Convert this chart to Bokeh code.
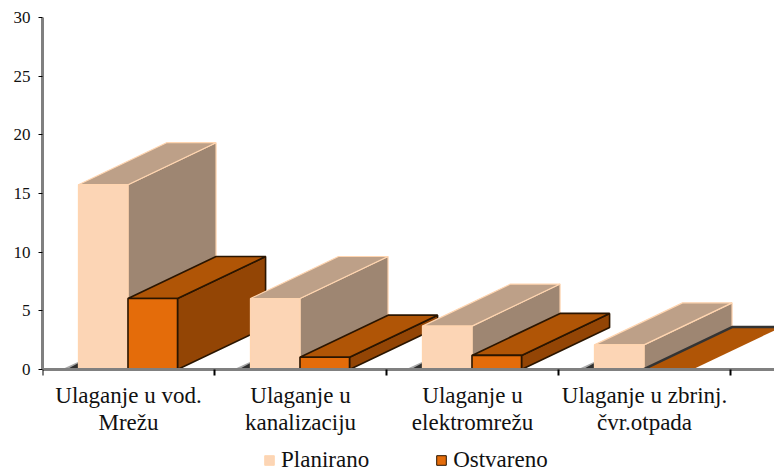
from bokeh.embed import file_html
from bokeh.resources import INLINE
from bokeh.plotting import figure
from bokeh.models import Range1d, FixedTicker, Legend, LegendItem, ColumnDataSource

categories = ["Ulaganje u vod.\nMrežu", "Ulaganje u\nkanalizaciju", "Ulaganje u\nelektromrežu", "Ulaganje u zbrinj.\nčvr.otpada"]
planirano = [15.75, 6.05, 3.7, 2.1]
ostvareno = [6.05, 1.05, 1.2, 0.04]
y_ticks = [0, 5, 10, 15, 20, 25, 30]

FONT = "Liberation Serif"
PLAN = dict(front="#FCD5B5", top="#BDA088", side="#9E8672", edge="#FFD5B0")
OSTV = dict(front="#E46C0A", top="#B05506", side="#934505", edge="#2A1500")

BAR_W = 0.288
GAP = 0.209
DX = 0.512
DY = 3.58

W, H = 774, 474
L, T = 42, 17
PX_PER_UNIT = 352 / 30

p = figure(width=W, height=H, output_backend="svg", toolbar_location=None,
           x_range=Range1d(0, (W - L) / 172.0), y_range=Range1d(-105 / PX_PER_UNIT, 30),
           min_border_left=L, min_border_right=0, min_border_top=T, min_border_bottom=0,
           outline_line_color=None, background_fill_color="white")
p.grid.visible = False


def box(x0, h, st, lw):
    x1 = x0 + BAR_W
    if h > 0.2:
        p.patch([x1, x1 + DX, x1 + DX, x1], [0, DY, h + DY, h], fill_color=st["side"], line_color=st["edge"], line_width=lw)
    p.patch([x0, x1, x1 + DX, x0 + DX], [h, h, h + DY, h + DY], fill_color=st["top"],
            line_color=st["edge"] if h > 0.2 else None, line_width=lw)
    if h > 0.2:
        p.patch([x0, x1, x1, x0], [0, 0, h, h], fill_color=st["front"], line_color=st["edge"], line_width=lw)
    else:
        p.line([x0, x0 + DX, x1 + DX], [h, h + DY, h + DY], line_color="#333333", line_width=2.5)


for i in range(len(categories)):
    p.patch([i + 0.11, i + GAP, i + GAP], [0, 0, 0.65], fill_color="#A8A8A8", line_color=None)
    p.patch([i + 0.14, i + GAP, i + GAP], [0, 0, 0.55], fill_color="#303030", line_color=None)
    box(i + GAP, planirano[i], PLAN, 1.2)
    box(i + GAP + BAR_W, ostvareno[i], OSTV, 1.6)

p.xaxis.fixed_location = 0
p.xaxis.ticker = FixedTicker(ticks=[i + 0.5 for i in range(len(categories))], minor_ticks=list(range(len(categories) + 1)))
p.xaxis.major_label_overrides = {i + 0.5: c for i, c in enumerate(categories)}
p.xaxis.major_tick_line_color = None
p.xaxis.minor_tick_line_color = "#000000"
p.xaxis.minor_tick_line_width = 2
p.xaxis.minor_tick_out = 6
p.xaxis.minor_tick_in = 0
p.xaxis.axis_line_color = "#808080"
p.xaxis.axis_line_width = 3
p.xaxis.major_label_text_font = FONT
p.xaxis.major_label_text_font_size = "23px"
p.xaxis.major_label_text_color = "#111111"
p.xaxis.major_label_text_line_height = 1.1
p.xaxis.major_label_standoff = 7

p.yaxis.bounds = (0, 30)
p.yaxis.ticker = FixedTicker(ticks=y_ticks)
p.yaxis.major_tick_line_color = "#000000"
p.yaxis.minor_tick_line_color = None
p.yaxis.major_tick_out = 4
p.yaxis.major_tick_in = 0
p.yaxis.axis_line_color = "#808080"
p.yaxis.axis_line_width = 3
p.yaxis.major_label_text_font = FONT
p.yaxis.major_label_text_font_size = "17px"
p.yaxis.major_label_text_color = "#111111"
p.yaxis.major_label_standoff = 8

src = ColumnDataSource(dict(l=[-10], r=[-9], b=[-50], t=[-49]))
r1 = p.quad(left="l", right="r", bottom="b", top="t", source=src, fill_color=PLAN["front"], line_color=PLAN["edge"])
r2 = p.quad(left="l", right="r", bottom="b", top="t", source=src, fill_color=OSTV["front"], line_color=OSTV["edge"])
legend = Legend(items=[LegendItem(label="Planirano", renderers=[r1]), LegendItem(label="Ostvareno", renderers=[r2])],
                orientation="horizontal", location=(221, 1), spacing=66, padding=0, margin=0,
                glyph_width=12, glyph_height=12, label_standoff=6,
                label_text_font=FONT, label_text_font_size="23px", label_text_color="#111111",
                background_fill_alpha=0, border_line_color=None)
p.add_layout(legend, "center")

open("out.html", "w").write(file_html(p, INLINE))
